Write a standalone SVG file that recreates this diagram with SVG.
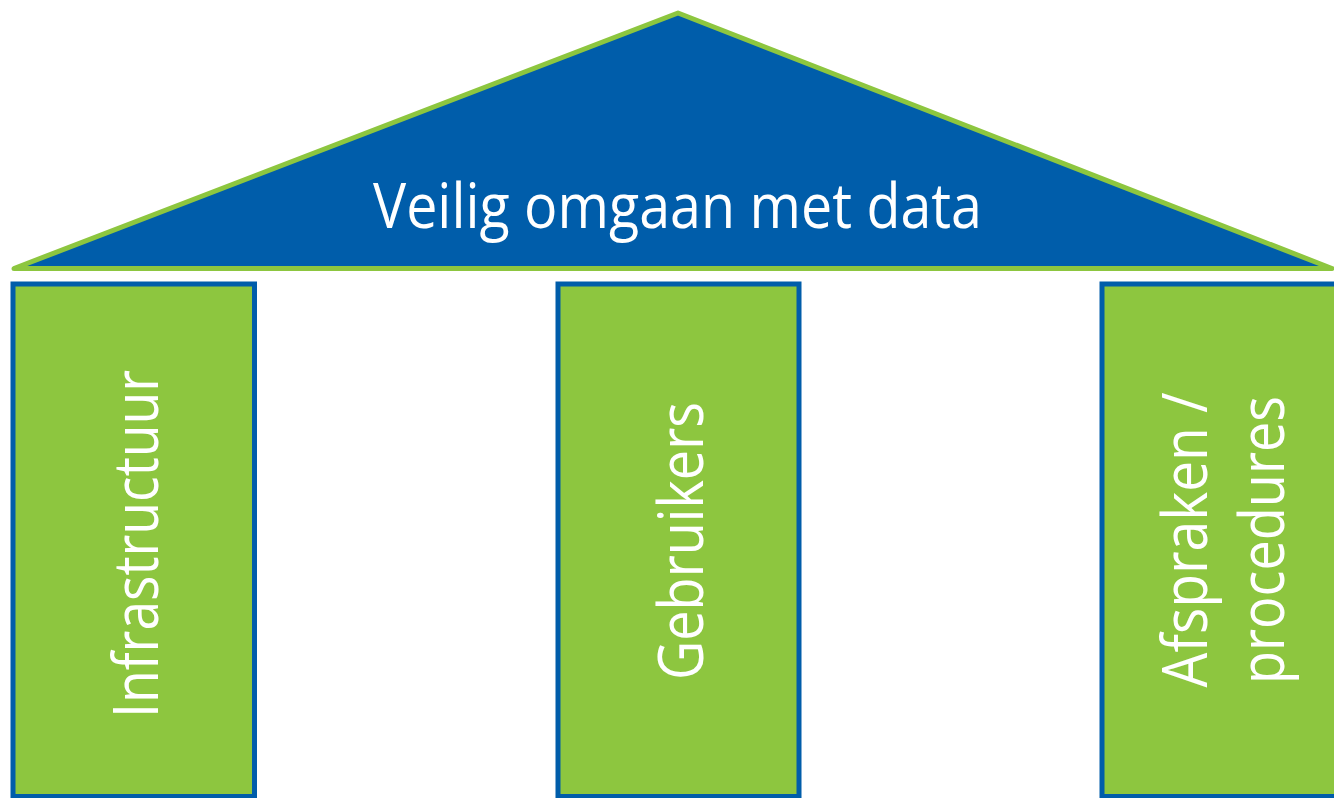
<svg xmlns="http://www.w3.org/2000/svg" width="1334" height="798" viewBox="0 0 1334 798">
<style>
.roof{fill:#005DAA;stroke:#8DC63F;stroke-width:5;stroke-linejoin:round}
.pillar{fill:#8DC63F;stroke:#005DAA;stroke-width:5}
.t{fill:#FFFFFF;font-family:"Open Sans","Liberation Sans",sans-serif;font-size:62px;text-anchor:middle}
</style>
<rect width="1334" height="798" fill="#FFFFFF"/>
<g id="roof">
<polygon class="roof" points="14,268.5 678,13 1332,268.5"/>
<text class="t" x="677.5" y="228" textLength="609" lengthAdjust="spacingAndGlyphs">Veilig omgaan met data</text>
</g>
<g id="pillar-infrastructuur">
<rect class="pillar" x="13" y="284" width="241.5" height="512.5"/>
<text class="t" transform="translate(158,544) rotate(-90)" x="0" y="0" textLength="348" lengthAdjust="spacingAndGlyphs">Infrastructuur</text>
</g>
<g id="pillar-gebruikers">
<rect class="pillar" x="558" y="284" width="241" height="512.5"/>
<text class="t" transform="translate(703,541) rotate(-90)" x="0" y="0" textLength="278" lengthAdjust="spacingAndGlyphs">Gebruikers</text>
</g>
<g id="pillar-afspraken">
<rect class="pillar" x="1102" y="284" width="241" height="512.5"/>
<text class="t" transform="translate(1207,540) rotate(-90)" x="0" y="0" textLength="295" lengthAdjust="spacingAndGlyphs">Afspraken /</text>
<text class="t" transform="translate(1284,540) rotate(-90)" x="0" y="0" textLength="288" lengthAdjust="spacingAndGlyphs">procedures</text>
</g>
<g id="connectors"></g>
</svg>
